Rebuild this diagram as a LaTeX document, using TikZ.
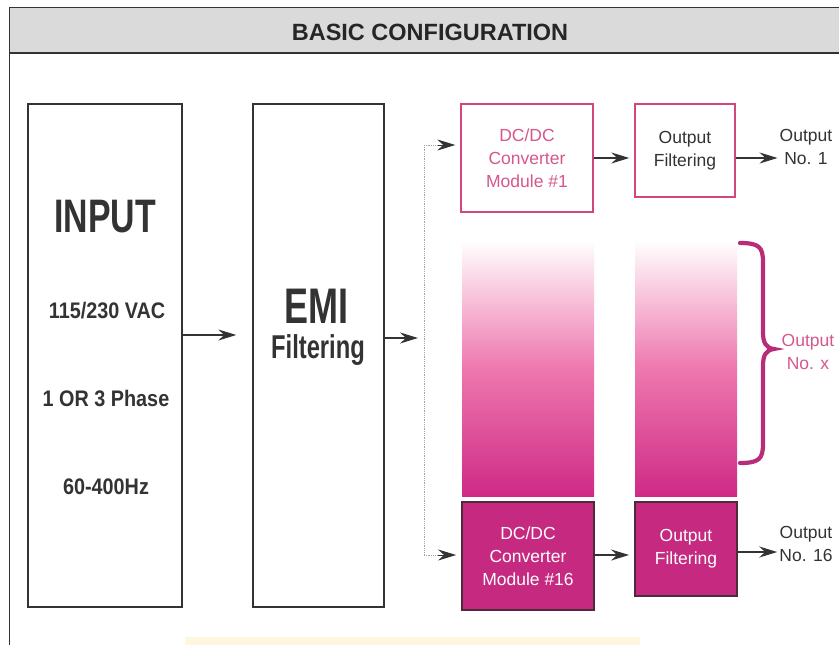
\documentclass[tikz,border=0pt]{standalone}
\usepackage{fontspec}
\setmainfont{Liberation Sans}
\newfontfamily\condbig[FakeStretch=0.72]{Liberation Sans}
\newfontfamily\condsmall[FakeStretch=0.88]{Liberation Sans}
\usetikzlibrary{arrows.meta,calc}
\definecolor{inkdark}{HTML}{333333}
\definecolor{pinkline}{HTML}{D2467E}
\definecolor{pinktext}{HTML}{D6578E}
\definecolor{magfill}{HTML}{C52A80}
\definecolor{magdark}{HTML}{4E2A3C}
\definecolor{gradmid}{HTML}{EE78AE}
\definecolor{gradbot}{HTML}{CF2A86}
\definecolor{bracecol}{HTML}{B82C78}
\definecolor{bandgray}{HTML}{DADADA}
\definecolor{dotgray}{HTML}{A8A0A4}
\definecolor{paleyellow}{HTML}{FCF7DE}
\tikzset{
  blockbox/.style={draw=inkdark, line width=1.4pt, inner sep=0pt},
  pinkbox/.style={draw=pinkline, line width=1.4pt, inner sep=0pt, text=pinktext,
    align=center, font=\fontsize{17.5}{23}\selectfont},
  magbox/.style={draw=magdark, fill=magfill, line width=1.8pt, inner sep=0pt, text=white,
    align=center, font=\fontsize{17.5}{23}\selectfont},
  gradcol/.style={draw=none, top color=white, bottom color=gradbot, middle color=gradmid, inner sep=0pt},
  bigtxt/.style={text=inkdark, font=\condbig\bfseries\fontsize{47}{47}\selectfont, inner sep=0pt},
  midtxt/.style={text=inkdark, font=\condbig\bfseries\fontsize{33}{33}\selectfont, inner sep=0pt},
  smalltxt/.style={text=inkdark, font=\condsmall\bfseries\fontsize{22.5}{22.5}\selectfont, inner sep=0pt},
  outlabel/.style={text=inkdark, align=center, font=\fontsize{17.5}{23}\selectfont, inner sep=0pt},
  arr/.style={draw=inkdark, line width=1.4pt, -{Stealth[length=18pt,width=11pt,inset=6pt]}},
  thinarr/.style={draw=inkdark, line width=0.8pt, -{Stealth[length=18pt,width=11pt,inset=6pt]}},
  dotline/.style={draw=dotgray, line width=0.8pt, densely dotted},
  bracestyle/.style={draw=bracecol, line width=4.2pt, line cap=round},
}
\begin{document}
\begin{tikzpicture}[x=1pt,y=-1pt]
\useasboundingbox (0,0) rectangle (839,645);
\fill[white] (0,0) rectangle (839,645);
% title band and frame
\fill[bandgray] (9.5,7.5) rectangle (845,53);
\draw[inkdark, line width=1.6pt] (845,7.5) -- (9.5,7.5) -- (9.5,650);
\draw[inkdark, line width=1.6pt] (9.5,53) -- (845,53);
\node[text=black!85, font=\bfseries\fontsize{23.5}{23.5}\selectfont, inner sep=0pt] (title) at (430,32) {BASIC CONFIGURATION};
\fill[paleyellow] (185,637) rectangle (640,645);
% input and emi blocks
\node[blockbox, minimum width=154pt, minimum height=503pt] (input) at (105,355.5) {};
\node[bigtxt] (inputlbl) at (105,217) {INPUT};
\node[smalltxt] (vac) at (107,311) {115/230 VAC};
\node[smalltxt] (phase) at (106,398) {1 OR 3 Phase};
\node[smalltxt] (freq) at (106,487) {60-400Hz};
\node[blockbox, minimum width=131pt, minimum height=503pt] (emi) at (318.5,355.5) {};
\node[midtxt] (emilbl) at (316,306) {\fontsize{50}{50}\selectfont EMI};
\node[midtxt] (filtlbl) at (318,350) {Filtering};
% gradient columns
\node[gradcol, minimum width=132pt, minimum height=256pt] (colA) at (528,368) {};
\node[gradcol, minimum width=102pt, minimum height=256pt] (colB) at (686,368) {};
% converter and filter blocks
\node[pinkbox, minimum width=132pt, minimum height=108pt] (dc1) at (527,158) {DC/DC\\Converter\\Module \#1};
\node[pinkbox, text=inkdark, minimum width=100pt, minimum height=93pt] (of1) at (685,150.5) {Output\\Filtering};
\node[magbox, minimum width=132pt, minimum height=108pt] (dc16) at (528,556) {DC/DC\\Converter\\Module \#16};
\node[magbox, minimum width=102pt, minimum height=94pt] (of16) at (686,549) {Output\\Filtering};
% output labels
\node[outlabel] (out1) at (806,147) {Output\\No. 1};
\node[outlabel] (out16) at (806,544) {Output\\No. 16};
\node[outlabel, text=pinktext] (outx) at (808,352) {Output\\No. x};
% helper coordinates
\coordinate (yin) at (0,335);
\coordinate (yemi) at (0,338);
\coordinate (bus1) at (424,145);
\coordinate (bus16) at (424,555);
\coordinate (a1) at (0,158);
\coordinate (a16) at (0,555);
\coordinate (b16) at (0,552);
% connectors
\draw[arr, shorten >=16pt] (input.east |- yin) -- (emi.west |- yin);
\draw[arr, shorten >=6pt] (emi.east |- yemi) -- (bus1 |- yemi);
\draw[dotline] (bus1) -- (bus16);
\draw[dotline] (bus1) -- ($(bus1)+(14,0)$);
\draw[dotline] (bus16) -- ($(bus16)+(14,0)$);
\draw[thinarr, shorten >=5pt, shorten <=14pt] (bus1) -- (dc1.west |- bus1);
\draw[thinarr, shorten >=5pt, shorten <=14pt] (bus16) -- (dc16.west |- bus16);
\draw[arr, shorten >=5pt] (dc1.east |- a1) -- (of1.west |- a1);
\draw[arr, shorten >=2pt] (of1.east |- a1) -- (out1.west |- a1);
\draw[arr, shorten >=5pt] (dc16.east |- a16) -- (of16.west |- a16);
\draw[arr, shorten >=2pt] (of16.east |- b16) -- (out16.west |- b16);
% brace
\draw[bracestyle] (740,243) .. controls (759,243) and (763,247) .. (763,262) -- (763,332) .. controls (763,343) and (766,348) .. (774,349) .. controls (766,350) and (763,355) .. (763,366) -- (763,444) .. controls (763,459) and (759,463) .. (740,463);
\end{tikzpicture}
\end{document}
